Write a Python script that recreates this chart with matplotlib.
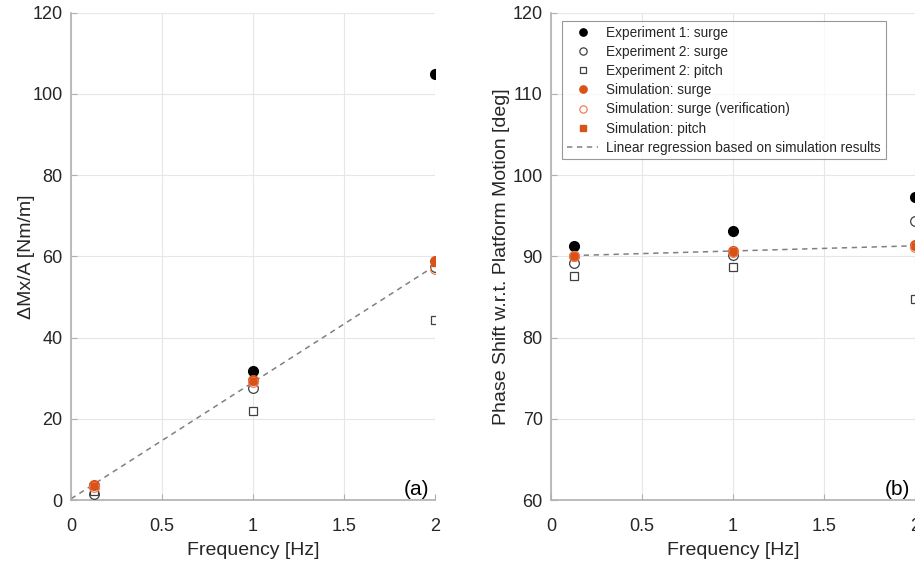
import matplotlib.pyplot as plt

plt.rcParams['font.family'] = ['Liberation Sans', 'DejaVu Sans']

# frequencies [Hz]
freq = [0.125, 1.0, 2.0]

# (a) dMx/A [Nm/m]
a_exp1_surge = [3.4, 31.8, 105.0]
a_exp2_surge = [1.6, 27.7, 57.4]
a_exp2_pitch = [2.2, 21.8, 44.3]
a_sim_surge = [3.6, 29.5, 58.9]
a_sim_verif = [3.3, 29.0, 56.8]
a_sim_pitch = [3.5, 29.2, 58.4]
a_reg_x = [0.0, 2.0]
a_reg_y = [0.3, 57.7]

# (b) phase shift [deg]
b_exp1_surge = [91.3, 93.1, 97.3]
b_exp2_surge = [89.2, 90.2, 94.3]
b_exp2_pitch = [87.6, 88.7, 84.7]
b_sim_surge = [90.1, 90.7, 91.35]
b_sim_verif = [90.0, 90.5, 91.1]
b_sim_pitch = [90.1, 90.6, 91.3]
b_reg_x = [0.125, 2.0]
b_reg_y = [90.1, 91.3]

ORANGE = '#D95319'
ORANGE_LIGHT = '#EE7F5A'
AXIS_GRAY = '#B0B0B0'
TEXT_GRAY = '#262626'

fig = plt.figure(figsize=(9.15, 5.68), dpi=100)
ax_a = fig.add_axes([0.0776, 0.1197, 0.398, 0.858])
ax_b = fig.add_axes([0.6022, 0.1197, 0.398, 0.858])


def draw(ax, e1, e2s, e2p, ss, sv, sp, rx, ry):
    ax.plot(freq, e1, 'o', color='black', ms=7, label='Experiment 1: surge', zorder=3)
    ax.plot(freq, e2s, 'o', mfc='white', mec='#404040', mew=0.9, ms=7,
            label='Experiment 2: surge', zorder=3)
    ax.plot(freq, e2p, 's', mfc='white', mec='#404040', mew=0.9, ms=6,
            label='Experiment 2: pitch', zorder=3)
    ax.plot(freq, ss, 'o', color=ORANGE, ms=7, label='Simulation: surge', zorder=4)
    ax.plot(freq, sv, 'o', mfc='none', mec=ORANGE_LIGHT, mew=0.9, ms=7,
            label='Simulation: surge (verification)', zorder=4)
    ax.plot(freq, sp, 's', color=ORANGE, ms=5, label='Simulation: pitch', zorder=4)
    ax.plot(rx, ry, '--', color='#808080', lw=1.1, dashes=(3.5, 3),
            label='Linear regression based on simulation results', zorder=2)
    ax.set_xlim(0, 2)
    ax.set_xticks([0, 0.5, 1, 1.5, 2])
    ax.set_xticklabels(['0', '0.5', '1', '1.5', '2'])
    ax.grid(True, color='#E6E6E6', lw=0.8)
    ax.set_axisbelow(True)
    for s in ['top', 'right']:
        ax.spines[s].set_visible(False)
    for s in ['left', 'bottom']:
        ax.spines[s].set_color(AXIS_GRAY)
        ax.spines[s].set_linewidth(1.2)
    ax.tick_params(direction='in', length=4, color=AXIS_GRAY, labelsize=13,
                   labelcolor=TEXT_GRAY)
    ax.tick_params(axis='y', pad=6)
    ax.tick_params(axis='x', pad=13)
    ax.set_xlabel('Frequency [Hz]', fontsize=14, color=TEXT_GRAY, labelpad=5)


draw(ax_a, a_exp1_surge, a_exp2_surge, a_exp2_pitch, a_sim_surge, a_sim_verif,
     a_sim_pitch, a_reg_x, a_reg_y)
ax_a.set_ylim(0, 120)
ax_a.set_yticks(range(0, 121, 20))
ax_a.set_ylabel('ΔMx/A [Nm/m]', fontsize=14, color=TEXT_GRAY, labelpad=-2)
ax_a.text(0.985, 0.003, '(a)', transform=ax_a.transAxes, ha='right', va='bottom',
          fontsize=15, color='black')

draw(ax_b, b_exp1_surge, b_exp2_surge, b_exp2_pitch, b_sim_surge, b_sim_verif,
     b_sim_pitch, b_reg_x, b_reg_y)
ax_b.set_ylim(60, 120)
ax_b.set_yticks(range(60, 121, 10))
ax_b.set_ylabel('Phase Shift w.r.t. Platform Motion [deg]', fontsize=14,
                color=TEXT_GRAY, labelpad=2)
ax_b.text(0.985, 0.003, '(b)', transform=ax_b.transAxes, ha='right', va='bottom',
          fontsize=15, color='black')

leg = ax_b.legend(loc='upper left', bbox_to_anchor=(0.012, 0.997), fontsize=9.8,
                  frameon=True, fancybox=False, edgecolor='#7F7F7F',
                  handlelength=2.3, handletextpad=0.6, labelspacing=0.38,
                  borderpad=0.35, markerscale=0.75)
leg.get_frame().set_linewidth(0.8)
for t in leg.get_texts():
    t.set_color(TEXT_GRAY)

fig.savefig('out.png', dpi=100)
